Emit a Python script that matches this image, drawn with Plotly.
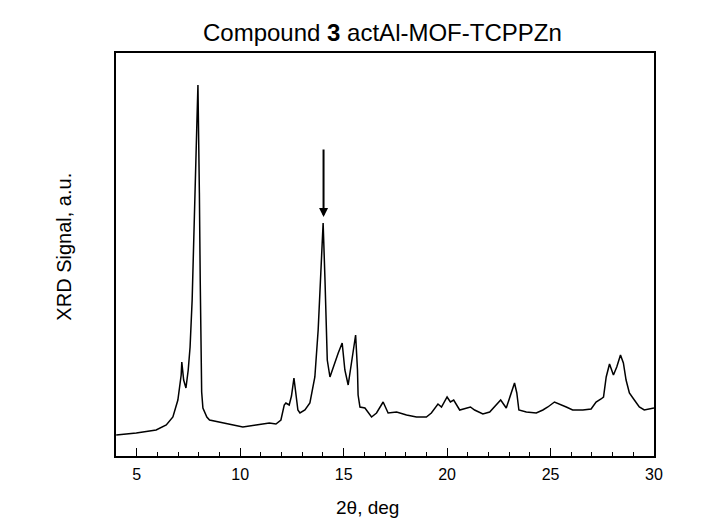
import plotly.graph_objects as go

two_theta = [4.01, 4.98, 5.94, 6.43, 6.75, 6.99, 7.15, 7.18, 7.27, 7.38, 7.49, 7.58, 7.68, 7.74, 7.83, 7.90, 7.96,
             8.00, 8.03, 8.07, 8.10, 8.14, 8.20, 8.39, 8.52, 9.16, 10.13, 10.77, 11.41, 11.73, 11.97, 12.13, 12.21,
             12.37, 12.48, 12.60, 12.70, 12.79, 12.89, 13.13, 13.37, 13.61, 13.77, 13.94, 14.01, 14.10, 14.21, 14.34,
             14.50, 14.74, 14.93, 15.06, 15.22, 15.38, 15.58, 15.67, 15.70, 15.79, 16.03, 16.35, 16.59, 16.91, 17.15,
             17.56, 18.04, 18.52, 19.00, 19.24, 19.56, 19.73, 20.00, 20.16, 20.32, 20.61, 20.93, 21.13, 21.33, 21.73,
             22.06, 22.30, 22.59, 22.86, 23.10, 23.26, 23.37, 23.47, 23.83, 24.31, 24.63, 24.87, 25.19, 25.59, 25.76,
             26.07, 26.56, 26.96, 27.20, 27.44, 27.56, 27.69, 27.85, 28.04, 28.20, 28.38, 28.52, 28.65, 28.81, 29.05,
             29.29, 29.53, 29.77, 30.0]
signal = [21, 23, 26, 31, 39, 56, 81, 94, 76, 68, 86, 109, 156, 196, 263, 326, 371,
          326, 263, 176, 96, 64, 48, 39, 36, 33, 29, 31, 33, 32, 36, 51, 53,
          51, 60, 78, 61, 46, 43, 46, 53, 79, 126, 193, 233, 176, 96, 79,
          89, 103, 113, 86, 71, 93, 121, 86, 61, 49, 48, 39, 43, 54, 43,
          44, 41, 39, 39, 43, 52, 49, 59, 54, 56, 46, 48, 49, 46, 42,
          44, 49, 56, 48, 63, 73, 63, 46, 44, 43, 46, 49, 54, 51, 49,
          46, 46, 47, 54, 57, 59, 79, 92, 81, 89, 101, 93, 76, 63, 56,
          49, 46, 47, 48]

x_ticks = [5, 10, 15, 20, 25, 30]
arrow_x = 14.03
arrow_tip = 239
arrow_tail = 308

FONT = "Arial, Liberation Sans, sans-serif"

fig = go.Figure()
fig.add_trace(go.Scatter(x=two_theta, y=signal, mode="lines",
                         line=dict(color="black", width=1.5), showlegend=False, hoverinfo="skip"))

fig.update_layout(
    width=703, height=519,
    margin=dict(l=108, r=57, t=45, b=71),
    paper_bgcolor="white", plot_bgcolor="white",
    font=dict(family=FONT, color="black"),
    xaxis=dict(range=[4, 30], tickvals=x_ticks, ticks="inside", ticklen=8, tickwidth=1.2,
               tickcolor="black", showline=True, linecolor="black", linewidth=1.5, mirror=True,
               showgrid=False, zeroline=False, tickfont=dict(size=16, family=FONT),
               ticklabelstandoff=3,
               minor=dict(dtick=1, tick0=0, ticks="inside", ticklen=4, tickwidth=1, tickcolor="black",
                          showgrid=False)),
    yaxis=dict(range=[0, 403], showticklabels=False, ticks="", showline=True, linecolor="black",
               linewidth=1.5, mirror=True, showgrid=False, zeroline=False),
    annotations=[
        dict(text="Compound <b>3</b> actAl-MOF-TCPPZn", xref="paper", yref="paper", x=0.496, y=1.05,
             xanchor="center", yanchor="middle", showarrow=False, font=dict(size=24, family=FONT)),
        dict(text="2θ, deg", xref="paper", yref="paper", x=0.468, y=-0.127,
             xanchor="center", yanchor="middle", showarrow=False, font=dict(size=19, family=FONT)),
        dict(text="XRD Signal, a.u.", xref="paper", yref="paper", x=-0.097, y=0.519, textangle=-90,
             xanchor="center", yanchor="middle", showarrow=False, font=dict(size=20, family=FONT)),
        dict(x=arrow_x, y=arrow_tip, ax=arrow_x, ay=arrow_tail, xref="x", yref="y", axref="x", ayref="y",
             text="", showarrow=True, arrowhead=2, arrowsize=0.9, arrowwidth=2, arrowcolor="black"),
    ],
)

fig.write_html("out.html")
